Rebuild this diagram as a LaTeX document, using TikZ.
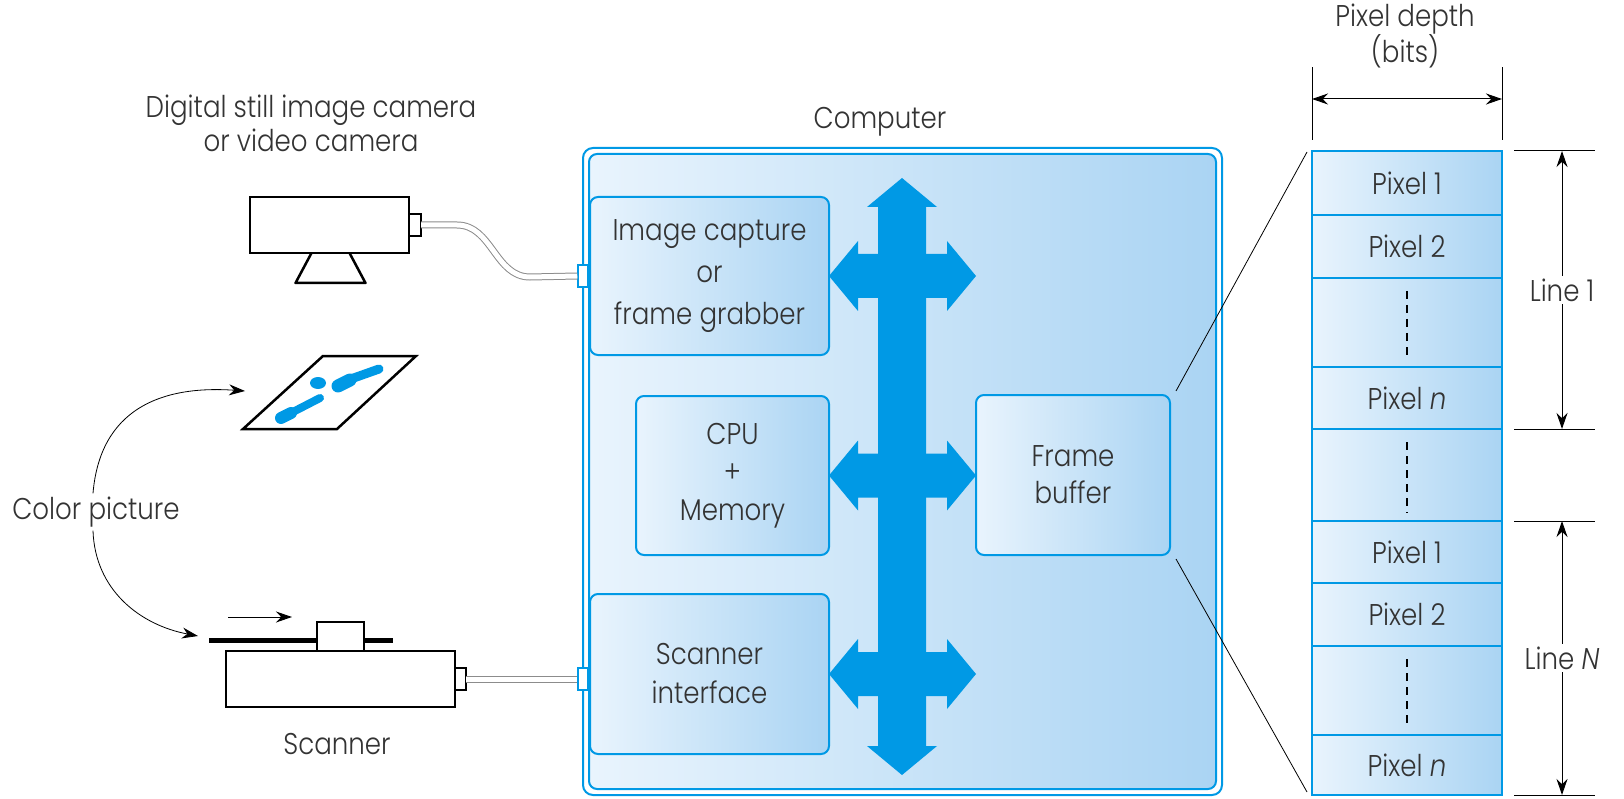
\documentclass[tikz,border=0pt]{standalone}
\usepackage{fontspec}
\setmainfont{Poppins}[UprightFont=* Light, ItalicFont=* Light Italic, FakeStretch=0.87]
\usepackage{tikz}
\usetikzlibrary{arrows.meta, positioning, calc}
\definecolor{busblue}{HTML}{0099E5}
\definecolor{paleblue}{HTML}{E9F4FD}
\definecolor{deepblue}{HTML}{AAD4F3}
\definecolor{labelgray}{HTML}{333333}
\newcommand{\lbl}[1]{\fontsize{30}{#1}\selectfont}

\begin{document}
\begin{tikzpicture}[x=1pt, y=-1pt, >={Stealth[length=16pt, width=11pt]},
    every node/.style={text=labelgray, font=\lbl{34}},
    unit/.style={draw=busblue, line width=2pt, rounded corners=8pt, left color=paleblue, right color=deepblue, align=center, inner sep=0pt, outer sep=0pt},
    port/.style={draw=busblue, line width=1.5pt, fill=white, minimum width=10pt, minimum height=22pt, inner sep=0pt},
    dev/.style={draw=black, line width=2.5pt, fill=white, inner sep=0pt, outer sep=0pt},
    cable/.style={draw=black!45, line width=1pt, double=white, double distance=5pt},
    bus/.style={fill=busblue, draw=none},
    tick/.style={line width=1pt}]

    \useasboundingbox (0,0) rectangle (1624,799);

    % computer
    \node[draw=busblue, line width=2pt, rounded corners=10pt, minimum width=639pt, minimum height=647pt, outer sep=0pt] (comp) at (902.5,471.5) {};
    \node[unit, minimum width=627pt, minimum height=635pt] (board) at (comp) {};
    \node (comptitle) at (880,122) {Computer};

    \node[unit, minimum width=239pt, minimum height=158pt, font=\lbl{42}] (cap) at (709.5,276) {Image capture\\or\\frame grabber};
    \node[unit, minimum width=193pt, minimum height=159pt, font=\lbl{38}] (cpu) at (732.5,475.5) {CPU\\+\\Memory};
    \node[unit, minimum width=239pt, minimum height=160pt, font=\lbl{39}] (scan) at (709.5,674) {Scanner\\interface};
    \node[unit, minimum width=194pt, minimum height=160pt, font=\lbl{37}] (fb) at (1073,475) {Frame\\buffer};

    % bus
    \fill[bus] (902,178) -- (937,207) -- (926,207) -- (926,746) -- (937,746) -- (902,775) -- (867,746) -- (878,746) -- (878,207) -- (867,207) -- cycle;
    \foreach \n in {cap, cpu, scan}
        \fill[bus] (\n.east) -- ++(29,-35) -- ++(0,13) -- ++(89,0) -- ++(0,-13) -- ++(29,35) -- ++(-29,35) -- ++(0,-13) -- ++(-89,0) -- ++(0,13) -- cycle;

    % camera
    \node[dev, minimum width=159pt, minimum height=56pt] (cam) at (329.5,225) {};
    \node[dev, minimum width=12pt, minimum height=22pt, anchor=west] (camlens) at (cam.east) {};
    \draw[line width=2.5pt, line join=round] ($(cam.south)+(-18,0)$) -- ++(-16,30) -- ++(70,0) -- ++(-16,-30);
    \node[align=center] (camlabel) at (311,123) {Digital still image camera\\or video camera};
    \node[port] (capport) at (comp.west |- cap) {};
    \draw[cable] (camlens.east) -- ++(36,0) .. controls +(35,0) and +(-35,0) .. ++(73,52) -- (capport.west);

    % scanner
    \draw[line width=5pt] (209,640) -- (393,640);
    \node[dev, minimum width=47pt, minimum height=29pt] (scanhead) at (340.5,636.5) {};
    \node[dev, minimum width=229pt, minimum height=56pt] (scanbody) at (340.5,679) {};
    \node[dev, minimum width=11pt, minimum height=22pt, anchor=west] (scanlens) at (scanbody.east) {};
    \draw[->, line width=1pt] (228,617) -- (292,617);
    \node (scanlabel) at (337,744) {Scanner};
    \node[port] (scanport) at (comp.west |- scanbody) {};
    \draw[cable] (scanlens.east) -- (scanport.west);

    % picture
    \draw[line width=2.5pt, fill=white] (323,356) -- (416,356) -- (337,429) -- (243,429) -- cycle;
    \fill[busblue] (318,383) ellipse [x radius=8, y radius=6];
    \draw[busblue, line cap=round, line width=13pt] (338,386) -- (350,380);
    \draw[busblue, line cap=round, line width=9pt] (348,380) -- (379,369);
    \draw[busblue, line cap=round, line width=12pt] (281,418) -- (291,413);
    \draw[busblue, line cap=round, line width=8pt] (289,414) -- (320,398);
    \node (colorpic) at (96,512) {Color picture};
    \draw[->, line width=0.8pt] ([xshift=-3pt]colorpic.north) .. controls (100,410) and (160,385) .. (245,391);
    \draw[->, line width=0.8pt] ([xshift=-3pt]colorpic.south) .. controls (95,590) and (140,625) .. (198,636);

    % pixel column
    \node[unit, rounded corners=0pt, minimum width=190pt, minimum height=644pt] (col) at (1407,473) {};
    \foreach \y in {215,278,367,429,521,583,646,735}
        \draw[busblue, line width=1.5pt] (1312,\y) -- (1502,\y);
    \foreach \y/\t in {183/Pixel 1, 246/Pixel 2, 398/Pixel \textit{n}, 552/Pixel 1, 614/Pixel 2, 765/Pixel \textit{n}}
        \node at (1407,\y) {\t};
    \foreach \a/\b in {278/367, 429/521, 646/735}
        \draw[dash pattern=on 8pt off 6pt, line width=1.5pt] (1407,\a+13) -- (1407,\b-8);

    \draw[line width=0.8pt] ([shift={(6,-4)}]fb.north east) -- ([shift={(-5,1)}]col.north west);
    \draw[line width=0.8pt] ([shift={(6,4)}]fb.south east) -- ([shift={(-5,-3)}]col.south west);

    % pixel depth
    \draw[tick] (col.north west) ++(0,-11) -- ++(0,-73);
    \draw[tick] (col.north east) ++(0,-11) -- ++(0,-73);
    \coordinate (dl) at (1312,99);
    \coordinate (dr) at (1502,99);
    \draw[<->, tick] (dl) -- (dr);
    \node[align=center, font=\lbl{33}] (depth) at (1405,36) {Pixel depth\\(bits)};

    % lines
    \foreach \y in {151,429,521,795}
        \draw[tick] (1514,\y) -- (1595,\y);
    \coordinate (l1a) at (1562,151);
    \coordinate (l1b) at (1562,429);
    \coordinate (lna) at (1562,521);
    \coordinate (lnb) at (1562,795);
    \draw[<->, tick] (l1a) -- node[fill=white, inner sep=3pt] (line1) {Line 1} (l1b);
    \draw[<->, tick] (lna) -- node[fill=white, inner sep=3pt] (linen) {Line \textit{N}} (lnb);
\end{tikzpicture}
\end{document}
